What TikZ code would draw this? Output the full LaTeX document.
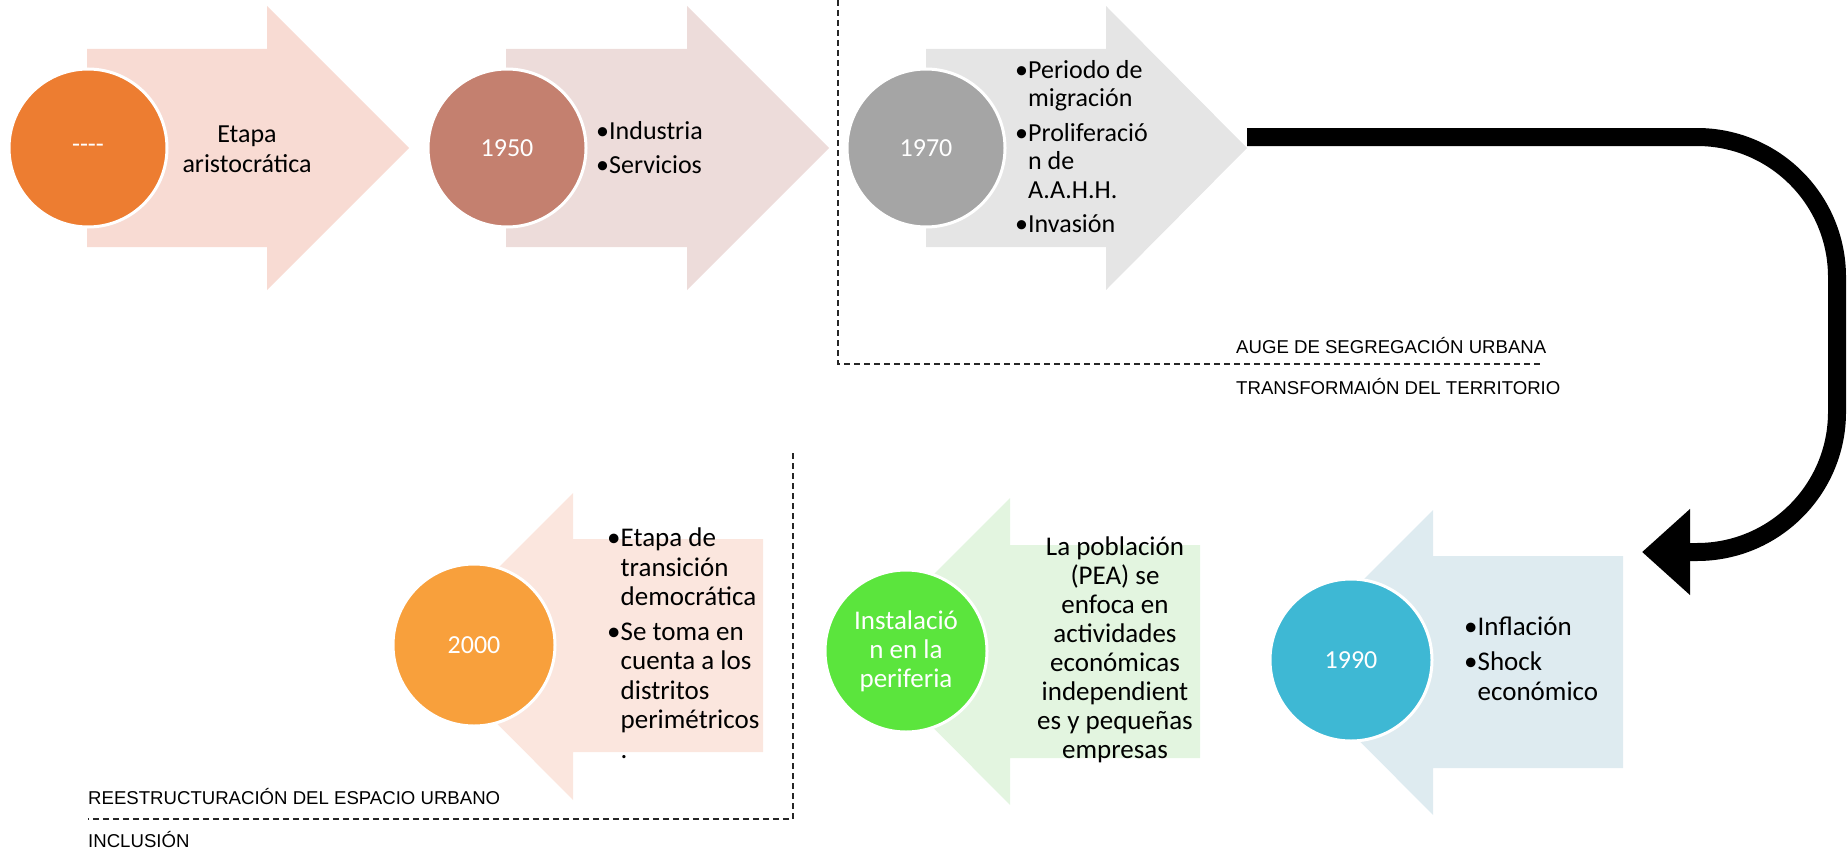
\documentclass[tikz,border=0pt]{standalone}
\usepackage{fontspec}
\setmainfont{Carlito}
\newfontfamily\capsfont{Liberation Sans}
\usetikzlibrary{arrows.meta}
\definecolor{rose}{HTML}{F8DBD3}
\definecolor{blush}{HTML}{EDDCDA}
\definecolor{mist}{HTML}{E5E5E5}
\definecolor{peach}{HTML}{FBE6DE}
\definecolor{mint}{HTML}{E3F5E0}
\definecolor{ice}{HTML}{DEEBF0}
\definecolor{dotA}{HTML}{ED7D31}
\definecolor{dotB}{HTML}{C4806F}
\definecolor{dotC}{HTML}{A5A5A5}
\definecolor{dotD}{HTML}{F8A03C}
\definecolor{dotE}{HTML}{5BE53D}
\definecolor{dotF}{HTML}{3EB8D4}

\begin{document}
\begin{tikzpicture}[x=1pt,y=-1pt,
    year/.style={circle,draw=white,line width=3pt,minimum size=#1,inner sep=0pt,text=white,align=center,font=\fontsize{26}{29}\selectfont},
    year/.default=158pt,
    points/.style={anchor=north west,inner sep=0pt,align=left,font=\fontsize{26}{28.5}\selectfont},
    heading/.style={anchor=base west,inner sep=0pt,font=\capsfont\fontsize{18.6}{22}\selectfont},
    divider/.style={dash pattern=on 6pt off 4pt,line width=1.3pt,black!85}]
\useasboundingbox (0,0) rectangle (1847,851);
\fill[rose] (87,49) -- (267,49) -- (267,6) -- (409,148) -- (267,290) -- (267,247) -- (87,247) -- cycle;
\fill[blush] (506,49) -- (687,49) -- (687,6) -- (829,148) -- (687,290) -- (687,247) -- (506,247) -- cycle;
\fill[mist] (926,49) -- (1106,49) -- (1106,6) -- (1247,148) -- (1106,290) -- (1106,247) -- (926,247) -- cycle;
\fill[peach] (420,646) -- (573,493) -- (573,539) -- (763,539) -- (763,752) -- (573,752) -- (573,800) -- cycle;
\fill[mint] (857,651) -- (1010,498) -- (1010,545) -- (1200,545) -- (1200,758) -- (1010,758) -- (1010,805) -- cycle;
\fill[ice] (1281,662) -- (1433,510) -- (1433,556) -- (1623,556) -- (1623,768) -- (1433,768) -- (1433,815) -- cycle;
\node[year,fill=dotA] (y00) at (88,148) {{-}{-}{-}{-}};
\node[year,fill=dotB] (y50) at (507,148) {1950};
\node[year,fill=dotC] (y70) at (926,148) {1970};
\node[year=162pt,fill=dotD] (y2k) at (474,645) {2000};
\node[year=162pt,fill=dotE,font=\fontsize{27}{29}\selectfont] (yper) at (906,651) {Instalació\\n en la\\periferia};
\node[year=162pt,fill=dotF] (y90) at (1351,660) {1990};
\node[points,anchor=north,align=center,font=\fontsize{26}{30}\selectfont] (txt00) at (247,121) {\strut Etapa\\aristocrática};
\node[points] (txt50) at (596,119) {\strut•Industria\\[6pt]•Servicios};
\node[points] (txt70) at (1015,58) {\strut•Periodo de\\\phantom{•}migración\\[6pt]•Proliferació\\\phantom{•}n de\\\phantom{•}A.A.H.H.\\[6pt]•Invasión};
\node[points,font=\fontsize{27}{29.5}\selectfont] (txt2k) at (607,526) {\strut•Etapa de\\\phantom{•}transición\\\phantom{•}democrática\\[5pt]•Se toma en\\\phantom{•}cuenta a los\\\phantom{•}distritos\\\phantom{•}perimétricos\\\phantom{•}.};
\node[points,anchor=north,align=center,font=\fontsize{27}{29}\selectfont] (txtper) at (1115,535) {\strut La población\\(PEA) se\\enfoca en\\actividades\\económicas\\independient\\es y pequeñas\\empresas};
\node[points,font=\fontsize{27}{30}\selectfont] (txt90) at (1464,614) {\strut•Inflación\\[5pt]•Shock\\\phantom{•}económico};
\coordinate (tip70) at (1247,137);
\coordinate (edge) at (1837,300);
\coordinate (in90) at (1642,552);
\draw[line width=18pt,rounded corners=140pt,-{Triangle[length=48pt,width=83pt]}] (tip70) -- (tip70 -| edge) -- (edge |- in90) -- (in90);
\draw[divider] (838,0) -- (838,364) -- (1542,364);
\draw[divider] (793,453) -- (793,819) -- (88,819);
\node[heading] (auge) at (1236,353) {AUGE DE SEGREGACIÓN URBANA};
\node[heading] (transf) at (1236,394) {TRANSFORMAIÓN DEL TERRITORIO};
\node[heading] (reest) at (88,804) {REESTRUCTURACIÓN DEL ESPACIO URBANO};
\node[heading] (incl) at (88,847) {INCLUSIÓN};
\end{tikzpicture}
\end{document}
